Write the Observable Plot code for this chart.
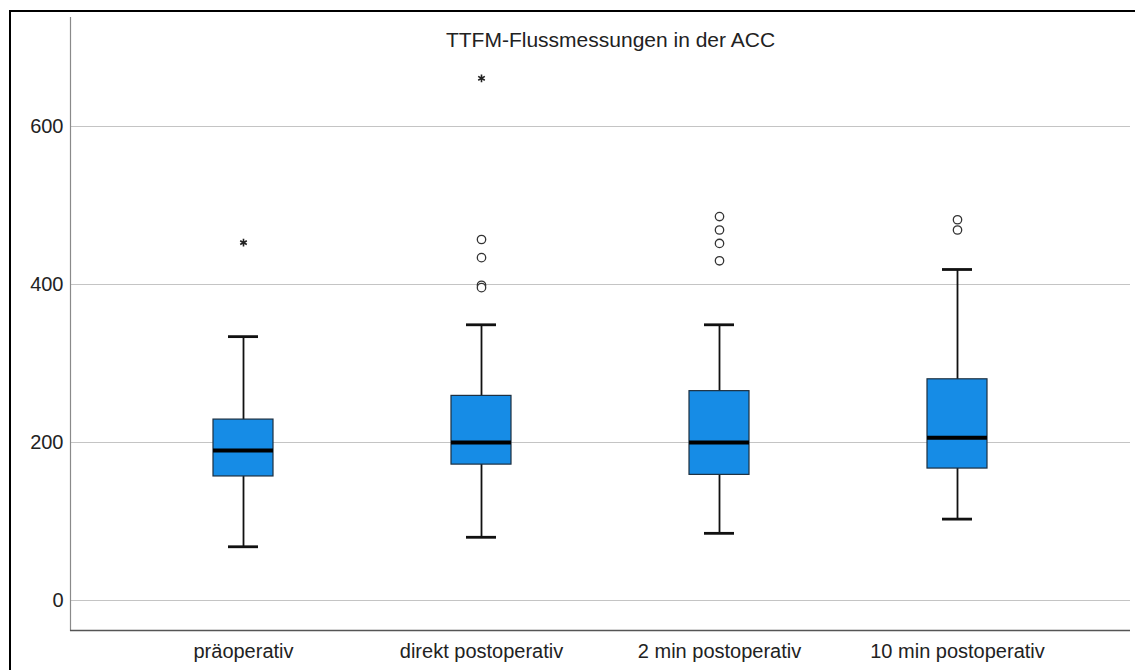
<!DOCTYPE html>
<html>
<head>
<meta charset="utf-8">
<script src="https://cdn.jsdelivr.net/npm/d3@7"></script>
<script src="https://cdn.jsdelivr.net/npm/@observablehq/plot@0.6"></script>
<style>
  html, body { margin: 0; padding: 0; background: #fff; overflow: hidden; }
  #wrap { position: relative; width: 1135px; height: 670px; overflow: hidden; }
  #borderTop { position: absolute; left: 9px; top: 10px; width: 1126px; height: 2px; background: #000; }
  #borderLeft { position: absolute; left: 9px; top: 10px; width: 2px; height: 660px; background: #000; }
  svg { font-family: "Liberation Sans", Arial, sans-serif; }
</style>
</head>
<body>
<div id="wrap"><div id="chart"></div><div id="borderTop"></div><div id="borderLeft"></div></div>
<script>
const categories = ["präoperativ", "direkt postoperativ", "2 min postoperativ", "10 min postoperativ"];
const lowerWhisker = [68, 80, 85, 103];
const q1 = [157, 172, 159, 167];
const median = [190, 200, 200, 206];
const q3 = [229, 259, 265, 280];
const upperWhisker = [334, 349, 349, 419];
const outlierCategory = ["direkt postoperativ", "direkt postoperativ", "direkt postoperativ", "direkt postoperativ",
  "2 min postoperativ", "2 min postoperativ", "2 min postoperativ", "2 min postoperativ",
  "10 min postoperativ", "10 min postoperativ"];
const outlierValue = [457, 434, 399, 396, 486, 469, 452, 430, 482, 469];
const extremeCategory = ["präoperativ", "direkt postoperativ"];
const extremeValue = [453, 661];
const yTicks = [0, 200, 400, 600];
const title = "TTFM-Flussmessungen in der ACC";

const boxes = categories.map((c, i) => ({
  cat: c, lo: lowerWhisker[i], q1: q1[i], med: median[i], q3: q3[i], hi: upperWhisker[i]
}));
const outliers = outlierValue.map((v, i) => ({cat: outlierCategory[i], v}));
const extremes = extremeValue.map((v, i) => ({cat: extremeCategory[i], v}));

const yMin = -38, yMax = 738;

const chart = Plot.plot({
  width: 1135,
  height: 670,
  marginLeft: 70,
  marginRight: 5,
  marginTop: 17,
  marginBottom: 40,
  style: {fontFamily: "Liberation Sans, Arial, sans-serif", background: "transparent"},
  x: {type: "band", domain: categories, paddingInner: 0.748, paddingOuter: 0.6, align: 0.5},
  y: {domain: [yMin, yMax]},
  marks: [
    Plot.gridY(yTicks, {stroke: "#c4c4c4", strokeOpacity: 1, strokeWidth: 1.2}),
    Plot.frame({anchor: "left", stroke: "#8a8a8a", strokeWidth: 1.2}),
    Plot.ruleY([yMin], {stroke: "#555", strokeWidth: 1.5}),
    Plot.axisY({ticks: yTicks, tickSize: 0, tickPadding: 7, fontSize: 20, label: null, fill: "#222"}),
    Plot.axisX({tickSize: 0, tickPadding: 13, fontSize: 20, label: null, fill: "#222"}),
    Plot.ruleX(boxes, {x: "cat", y1: "lo", y2: "hi", stroke: "#111", strokeWidth: 1.8}),
    Plot.tickY(boxes, {x: "cat", y: "lo", stroke: "#111", strokeWidth: 2.8, insetLeft: 15, insetRight: 15}),
    Plot.tickY(boxes, {x: "cat", y: "hi", stroke: "#111", strokeWidth: 2.8, insetLeft: 15, insetRight: 15}),
    Plot.barY(boxes, {x: "cat", y1: "q1", y2: "q3", fill: "#168ce6", stroke: "#1d2f40", strokeWidth: 1.2}),
    Plot.tickY(boxes, {x: "cat", y: "med", stroke: "#000", strokeWidth: 4}),
    Plot.dot(outliers, {x: "cat", y: "v", r: 4.2, fill: "#fff", stroke: "#333", strokeWidth: 1.3}),
    Plot.dot(extremes, {x: "cat", y: "v", symbol: "asterisk", r: 3.6, stroke: "#222", strokeWidth: 1.6}),
    Plot.text([title], {frameAnchor: "top", dx: 10, dy: 23, lineAnchor: "middle", textAnchor: "middle", fontSize: 21, fill: "#222"})
  ]
});
document.getElementById("chart").appendChild(chart);
</script>
</body>
</html>
